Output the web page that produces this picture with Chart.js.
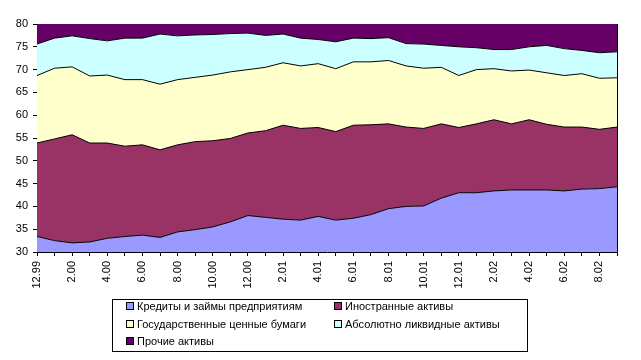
<!DOCTYPE html>
<html>
<head>
<meta charset="utf-8">
<script src="https://cdn.jsdelivr.net/npm/chart.js@4/dist/chart.umd.min.js"></script>
<style>
    html, body { margin: 0; padding: 0; background: #fff; }
    #wrap { position: relative; width: 641px; height: 360px; }
    #legend {
        position: absolute; left: 112px; top: 299px; width: 416px; height: 53px;
        border: 1px solid #000; box-sizing: border-box;
        font: 11px "Liberation Sans", Arial, sans-serif; color: #000;
    }
    .item { position: absolute; white-space: nowrap; line-height: 13px; }
    .box { display: inline-block; width: 6px; height: 6px; border: 1px solid #000; margin-right: 3px; vertical-align: 0px; }
</style>
</head>
<body>
<div id="wrap">
    <canvas id="chart" width="641" height="360"></canvas>
    <div id="legend"></div>
</div>
<script>
const months = [
    '12.99', '1.00', '2.00', '3.00', '4.00', '5.00', '6.00', '7.00', '8.00', '9.00', '10.00', '11.00', '12.00',
    '1.01', '2.01', '3.01', '4.01', '5.01', '6.01', '7.01', '8.01', '9.01', '10.01', '11.01', '12.01',
    '1.02', '2.02', '3.02', '4.02', '5.02', '6.02', '7.02', '8.02', '9.02',
];

const credits = [
    33.4, 32.5, 32.0, 32.2, 33.0, 33.4, 33.7, 33.2, 34.4, 34.9, 35.5, 36.6, 38.0,
    37.6, 37.2, 37.0, 37.8, 37.0, 37.4, 38.2, 39.5, 40.0, 40.1, 41.8, 43.0,
    43.0, 43.4, 43.6, 43.6, 43.6, 43.4, 43.8, 43.9, 44.3,
];
const foreign = [
    20.5, 22.3, 23.7, 21.7, 20.9, 19.8, 19.8, 19.2, 19.1, 19.3, 18.9, 18.3, 18.1,
    19.0, 20.6, 20.1, 19.5, 19.4, 20.4, 19.7, 18.6, 17.4, 17.0, 16.3, 14.3,
    15.1, 15.6, 14.5, 15.4, 14.4, 14.0, 13.6, 13.0, 13.1,
];
const government = [
    14.8, 15.5, 14.9, 14.7, 14.9, 14.6, 14.3, 14.4, 14.3, 14.1, 14.4, 14.6, 13.9,
    13.9, 13.7, 13.7, 14.0, 13.8, 13.9, 13.8, 13.9, 13.4, 13.2, 12.4, 11.4,
    11.9, 11.2, 11.6, 10.9, 11.3, 11.3, 11.7, 11.2, 10.8,
];
const liquid = [
    6.9, 6.6, 6.8, 8.2, 7.5, 9.1, 9.1, 11.0, 9.6, 9.3, 8.9, 8.4, 8.0,
    7.0, 6.3, 6.1, 5.3, 5.9, 5.2, 5.1, 5.0, 4.9, 5.3, 4.8, 6.3,
    4.8, 4.2, 4.7, 5.1, 6.0, 5.9, 5.1, 5.6, 5.7,
];
const other = [
    24.4, 23.1, 22.6, 23.2, 23.7, 23.1, 23.1, 22.2, 22.6, 22.4, 22.3, 22.1, 22.0,
    22.5, 22.2, 23.1, 23.4, 23.9, 23.1, 23.2, 23.0, 24.3, 24.4, 24.7, 25.0,
    25.2, 25.6, 25.6, 25.0, 24.7, 25.4, 25.8, 26.3, 26.1,
];

const seriesNames = [
    'Кредиты и займы предприятиям',
    'Иностранные активы',
    'Государственные ценные бумаги',
    'Абсолютно ликвидные активы',
    'Прочие активы',
];
const seriesColors = ['#9999ff', '#993366', '#ffffcc', '#ccffff', '#660066'];
const seriesValues = [credits, foreign, government, liquid, other];

const fontFamily = '"Liberation Sans", Arial, sans-serif';

const datasets = seriesValues.map((values, index) => ({
    label: seriesNames[index],
    data: values,
    backgroundColor: seriesColors[index],
    borderColor: '#000',
    borderWidth: 1,
    pointRadius: 0,
    tension: 0,
    fill: index === 0 ? 'origin' : '-1',
}));

const chart = new Chart(document.getElementById('chart'), {
    type: 'line',
    data: { labels: months, datasets },
    options: {
        responsive: false,
        animation: false,
        layout: { padding: { left: 0, top: 24, right: 24, bottom: 0 } },
        plugins: { legend: { display: false }, tooltip: { enabled: false } },
        scales: {
            x: {
                offset: false,
                afterFit: (scale) => { scale.height = 108; },
                grid: { drawOnChartArea: false, tickLength: 4, color: '#000', tickColor: '#000' },
                border: { color: '#000' },
                ticks: {
                    autoSkip: false,
                    maxRotation: 90,
                    minRotation: 90,
                    padding: 5,
                    color: '#000',
                    font: { family: fontFamily, size: 11 },
                    callback: (value, index) => (index % 2 === 0 ? months[index] : ''),
                },
            },
            y: {
                stacked: true,
                min: 30,
                max: 80,
                afterFit: (scale) => { scale.width = 37; },
                grid: { drawOnChartArea: false, tickLength: 4, color: '#000', tickColor: '#000' },
                border: { color: '#000' },
                ticks: {
                    stepSize: 5,
                    padding: 5,
                    color: '#000',
                    font: { family: fontFamily, size: 11 },
                },
            },
            yr: {
                position: 'right',
                min: 30,
                max: 80,
                afterFit: (scale) => { scale.width = 0; },
                grid: { display: false },
                border: { color: '#000' },
                ticks: { display: false },
            },
        },
    },
});

// legend box laid out in two columns like the original
const legend = document.getElementById('legend');
const positions = [
    { left: 13, top: 0 }, { left: 221, top: 0 },
    { left: 13, top: 18 }, { left: 221, top: 18 },
    { left: 13, top: 35 },
];
chart.data.datasets.forEach((dataset, index) => {
    const item = document.createElement('div');
    item.className = 'item';
    item.style.left = positions[index].left + 'px';
    item.style.top = positions[index].top + 'px';
    const box = document.createElement('span');
    box.className = 'box';
    box.style.background = dataset.backgroundColor;
    item.appendChild(box);
    item.appendChild(document.createTextNode(dataset.label));
    legend.appendChild(item);
});
</script>
</body>
</html>
